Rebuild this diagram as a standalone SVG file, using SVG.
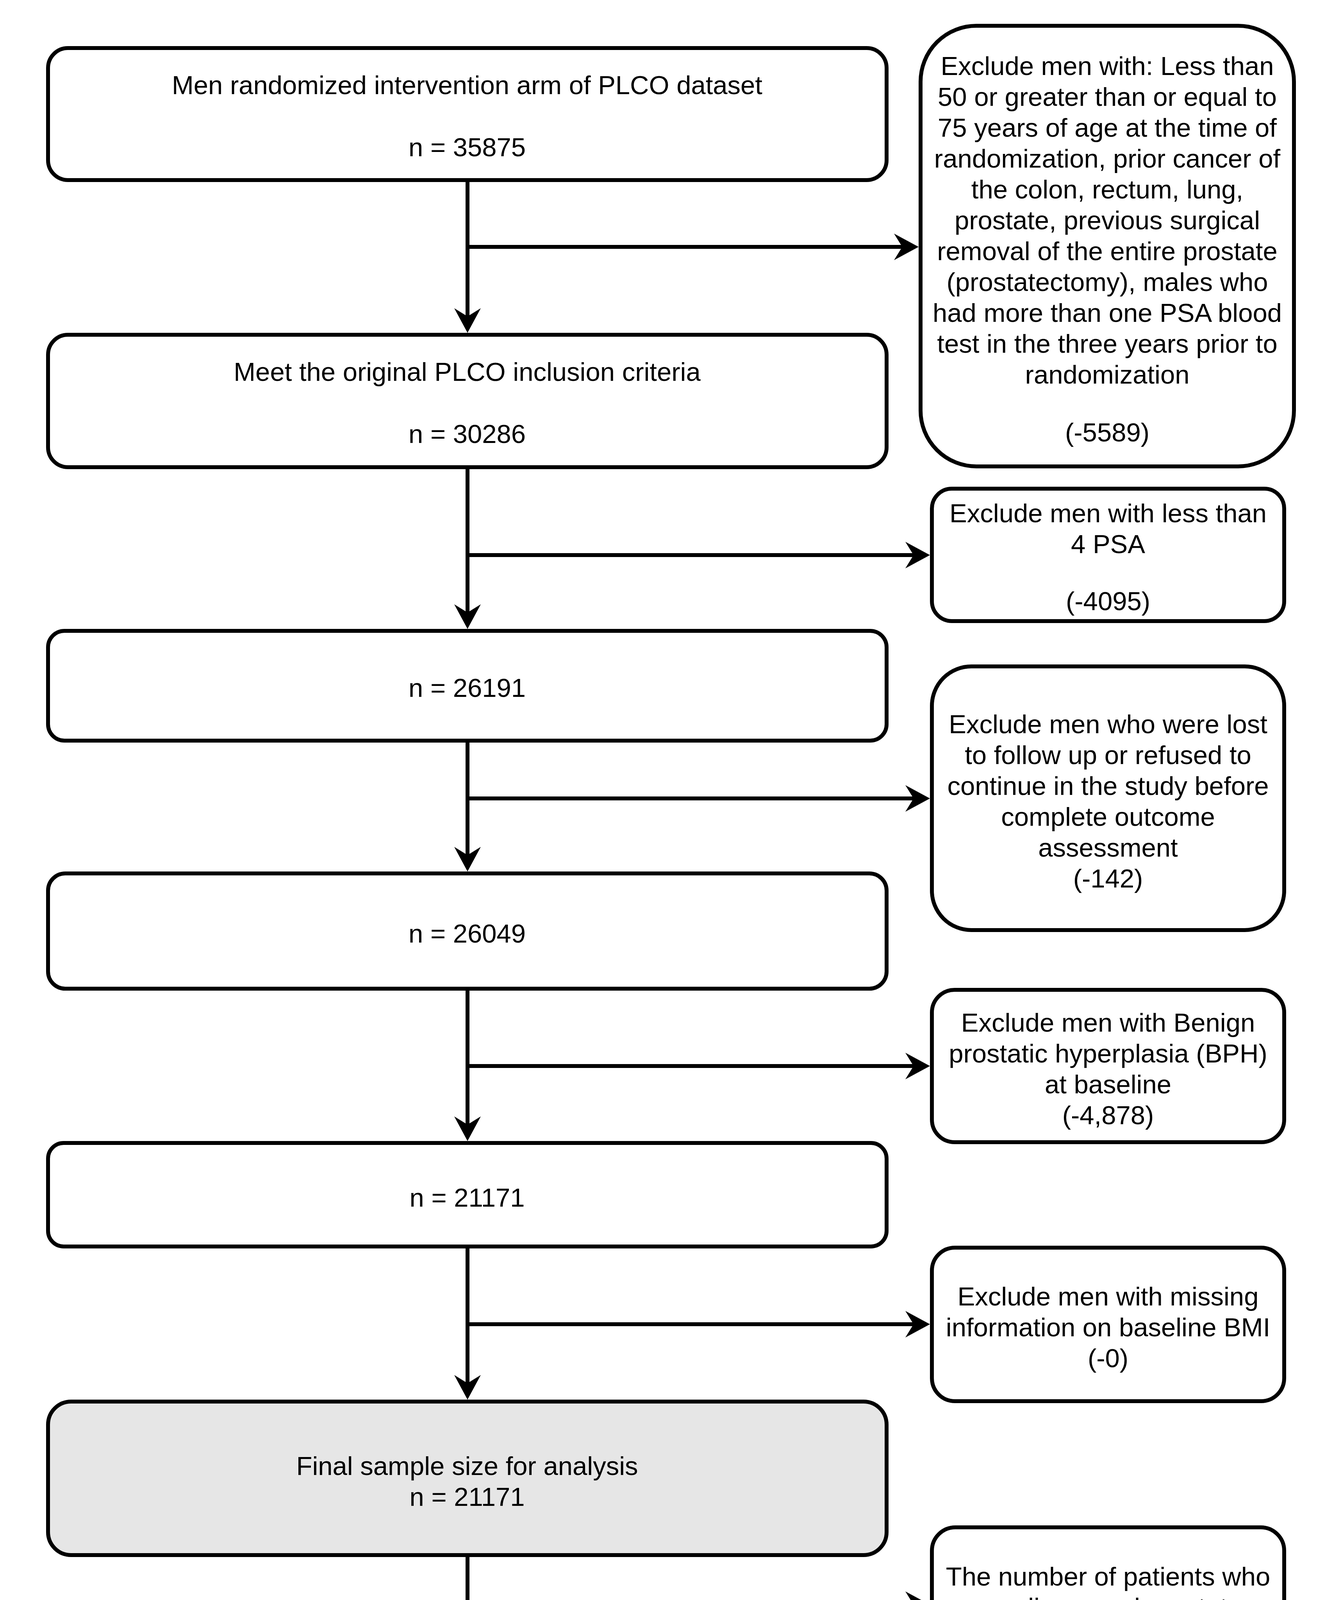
<svg xmlns="http://www.w3.org/2000/svg" width="3436" height="5334" viewBox="0 0 3436 5334">
<style>
.box{stroke:#000;stroke-width:10;fill:#fff}
.g1{fill:#e6e6e6}.g2{fill:#cccccc}.g3{fill:#b3b3b3}
.t{font-family:"Liberation Sans",Arial,sans-serif;font-size:67px;fill:#000;text-anchor:middle}
.c{stroke:#000;stroke-width:10;fill:none;marker-end:url(#arr)}
</style>
<defs>
<marker id="arr" markerUnits="userSpaceOnUse" markerWidth="70" markerHeight="70" refX="22" refY="35" orient="auto" overflow="visible">
<path d="M64,35 L1,1 L22,35 L1,69 Z" fill="#000"/>
</marker>
</defs>
<rect width="3436" height="5334" fill="#fff"/>
<g id="connectors">
<path class="c" d="M1197,461 V810"/>
<path class="c" d="M1197,1196 V1568"/>
<path class="c" d="M1197,1896 V2189"/>
<path class="c" d="M1197,2531 V2879"/>
<path class="c" d="M1197,3191 V3541"/>
<path class="c" d="M1197,3981 V4203"/>
<path class="c" d="M1197,4643 V4824"/>
<path class="c" d="M1192,632 H2310"/>
<path class="c" d="M1192,1421 H2339"/>
<path class="c" d="M1192,2044 H2339"/>
<path class="c" d="M1192,2729 H2339"/>
<path class="c" d="M1192,3390 H2339"/>
<path class="c" d="M1192,4108 H2339"/>
<path class="c" d="M1192,4748 H2339"/>
</g>
<g id="n1"><rect class="box" x="123" y="123" width="2147" height="338" rx="51"/>
<text class="t" x="1196" y="241">Men randomized intervention arm of PLCO dataset</text>
<text class="t" x="1196" y="400">n = 35875</text></g>
<g id="n2"><rect class="box" x="123" y="857" width="2147" height="339" rx="51"/>
<text class="t" x="1196" y="975">Meet the original PLCO inclusion criteria</text>
<text class="t" x="1196" y="1134">n = 30286</text></g>
<g id="n3"><rect class="box" x="123" y="1615" width="2147" height="281" rx="42"/>
<text class="t" x="1196" y="1784">n = 26191</text></g>
<g id="n4"><rect class="box" x="123" y="2236" width="2147" height="295" rx="44"/>
<text class="t" x="1196" y="2413">n = 26049</text></g>
<g id="n5"><rect class="box" x="123" y="2926" width="2147" height="265" rx="40"/>
<text class="t" x="1196" y="3089">n = 21171</text></g>
<g id="n6"><rect class="box g1" x="123" y="3588" width="2147" height="393" rx="59"/>
<text class="t" x="1196" y="3776">Final sample size for analysis</text>
<text class="t" x="1196" y="3855">n = 21171</text></g>
<g id="n7"><rect class="box g2" x="123" y="4250" width="2147" height="393" rx="59"/>
<text class="t" x="1196" y="4438">Prostate cancer diagnosed</text>
<text class="t" x="1196" y="4517">n = 1130</text></g>
<g id="n8"><rect class="box g3" x="123" y="4871" width="2147" height="398" rx="60"/>
<text class="t" x="1196" y="5062">High Risk Prostate Cancer (HRPC) Patients</text>
<text class="t" x="1196" y="5141">n = 190</text></g>
<g id="r1"><rect class="box" x="2357" y="66" width="956" height="1128" rx="143"/>
<text class="t" x="2835" y="192">Exclude men with: Less than</text>
<text class="t" x="2835" y="271">50 or greater than or equal to</text>
<text class="t" x="2835" y="350">75 years of age at the time of</text>
<text class="t" x="2835" y="429">randomization, prior cancer of</text>
<text class="t" x="2835" y="508">the colon, rectum, lung,</text>
<text class="t" x="2835" y="587">prostate, previous surgical</text>
<text class="t" x="2835" y="666">removal of the entire prostate</text>
<text class="t" x="2835" y="745">(prostatectomy), males who</text>
<text class="t" x="2835" y="824">had more than one PSA blood</text>
<text class="t" x="2835" y="903">test in the three years prior to</text>
<text class="t" x="2835" y="982">randomization</text>
<text class="t" x="2835" y="1130">(-5589)</text></g>
<g id="r2"><rect class="box" x="2386" y="1251" width="902" height="339" rx="51"/>
<text class="t" x="2837" y="1337">Exclude men with less than</text>
<text class="t" x="2837" y="1416">4 PSA</text>
<text class="t" x="2837" y="1562">(-4095)</text></g>
<g id="r3"><rect class="box" x="2386" y="1706" width="902" height="675" rx="101"/>
<text class="t" x="2837" y="1877">Exclude men who were lost</text>
<text class="t" x="2837" y="1956">to follow up or refused to</text>
<text class="t" x="2837" y="2035">continue in the study before</text>
<text class="t" x="2837" y="2114">complete outcome</text>
<text class="t" x="2837" y="2193">assessment</text>
<text class="t" x="2837" y="2272">(-142)</text></g>
<g id="r4"><rect class="box" x="2386" y="2534" width="902" height="390" rx="58"/>
<text class="t" x="2837" y="2641">Exclude men with Benign</text>
<text class="t" x="2837" y="2720">prostatic hyperplasia (BPH)</text>
<text class="t" x="2837" y="2799">at baseline</text>
<text class="t" x="2837" y="2878">(-4,878)</text></g>
<g id="r5"><rect class="box" x="2386" y="3194" width="902" height="393" rx="59"/>
<text class="t" x="2837" y="3342">Exclude men with missing</text>
<text class="t" x="2837" y="3421">information on baseline BMI</text>
<text class="t" x="2837" y="3500">(-0)</text></g>
<g id="r6"><rect class="box" x="2386" y="3910" width="902" height="397" rx="60"/>
<text class="t" x="2837" y="4059">The number of patients who</text>
<text class="t" x="2837" y="4138">are diagnosed prostate</text>
<text class="t" x="2837" y="4217">cancer positive</text></g>
<g id="r7"><rect class="box" x="2386" y="4551" width="902" height="394" rx="59"/>
<text class="t" x="2837" y="4739">Meeting the criteria of high</text>
<text class="t" x="2837" y="4818">risk of prostate cancer</text></g>
</svg>
